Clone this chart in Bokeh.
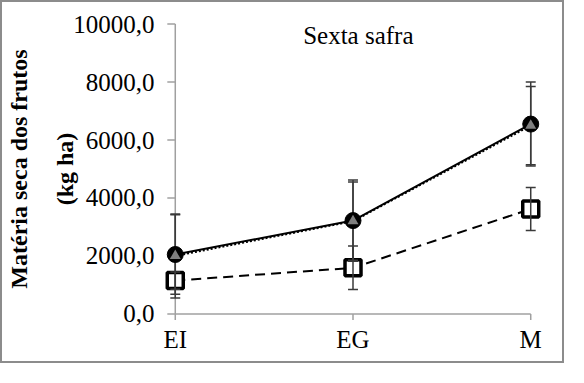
from bokeh.plotting import figure
from bokeh.models import Range1d, FixedTicker, LinearAxis
from bokeh.core.properties import value
from bokeh.embed import file_html
from bokeh.resources import INLINE

# ---- data ----
stages = ["EI", "EG", "M"]
xpos = [0, 1, 2]
circle_vals = [2050, 3220, 6550]
circle_err = [1370, 1400, 1450]
triangle_vals = [2000, 3200, 6500]
triangle_err = [1450, 1350, 1350]
square_vals = [1150, 1590, 3620]
square_err = [300, 750, 740]
yticks = [0, 2000, 4000, 6000, 8000, 10000]
title_text = "Sexta safra"

FONT = "Liberation Serif"
W, H = 564, 363
FRAME_W, FRAME_H = 393, 313
LEFT, TOP = 153, 10
X0, X1 = -0.1, 2.1
Y0, Y1 = -400, 10400
PX_X = FRAME_W / (X1 - X0)
PX_Y = FRAME_H / (Y1 - Y0)

p = figure(width=W, height=H, output_backend="svg", toolbar_location=None,
           x_range=Range1d(X0, X1), y_range=Range1d(Y0, Y1),
           min_border_left=LEFT, min_border_right=W - LEFT - FRAME_W,
           min_border_top=TOP, min_border_bottom=H - TOP - FRAME_H)
p.styles = {"border": "2px solid #8c8c8c"}
p.outline_line_color = None
p.xgrid.visible = False
p.ygrid.visible = False
p.background_fill_color = "white"
p.border_fill_color = "white"

# axes: labels from Bokeh, lines/ticks drawn manually
for ax in (p.xaxis[0], p.yaxis[0]):
    ax.axis_line_color = None
    ax.major_tick_line_color = None
    ax.minor_tick_line_color = None
    ax.major_tick_out = 0
    ax.major_tick_in = 0
    ax.minor_tick_out = 0
    ax.minor_tick_in = 0
    ax.major_label_text_font = FONT
    ax.major_label_text_font_size = "25px"
    ax.major_label_text_color = "black"
p.yaxis[0].major_label_standoff = 3
p.xaxis[0].major_label_standoff = 0

p.yaxis[0].ticker = FixedTicker(ticks=yticks)
p.yaxis[0].major_label_overrides = {t: f"{t},0" for t in yticks}
p.xaxis[0].ticker = FixedTicker(ticks=xpos)
p.xaxis[0].major_label_overrides = {x: s for x, s in zip(xpos, stages)}

def dummy_axis(label, standoff):
    return LinearAxis(axis_label=label, ticker=FixedTicker(ticks=[]),
                      major_tick_out=0, major_tick_in=0, minor_tick_out=0, minor_tick_in=0,
                      axis_line_color=None, major_label_text_font_size="0px",
                      axis_label_standoff=standoff, axis_label_text_font=FONT,
                      axis_label_text_font_style="bold", axis_label_text_font_size="24px",
                      axis_label_text_color="black")

p.add_layout(dummy_axis("(kg ha)", -7), "left")
p.add_layout(dummy_axis("Matéria seca dos frutos", 17), "left")

AX_COL = "#a0a0a0"
ytick_len = 8 / PX_X
xtick_len = 6 / PX_Y
# axis lines
p.segment(x0=[xpos[0]], y0=[yticks[0]], x1=[xpos[0]], y1=[yticks[-1]], line_color=AX_COL, line_width=1.5)
p.segment(x0=[xpos[0]], y0=[yticks[0]], x1=[xpos[-1]], y1=[yticks[0]], line_color=AX_COL, line_width=1.5)
# tick marks
p.segment(x0=[xpos[0] - ytick_len] * len(yticks), y0=yticks, x1=[xpos[0]] * len(yticks), y1=yticks,
          line_color=AX_COL, line_width=1.5)
p.segment(x0=xpos, y0=[yticks[0]] * 3, x1=xpos, y1=[yticks[0] - xtick_len] * 3,
          line_color=AX_COL, line_width=1.5)

# title
p.text(x=[1.03], y=[9620], text=[title_text], text_font=value(FONT), text_font_size="25px",
       text_align="center", text_baseline="middle", text_color="black")

# lines
p.line(xpos, square_vals, line_color="black", line_width=2, line_dash="10 6")
p.line(xpos, circle_vals, line_color="black", line_width=2)
p.line(xpos, triangle_vals, line_color="black", line_width=2, line_dash="2 2")

# squares
p.scatter(xpos, square_vals, marker="square", size=16, fill_color="white",
          line_color="black", line_width=3.5)

# error bars
ERR_COL = "#3a3a3a"
cap = 5 / PX_X
def errbars(vals, errs):
    lo = [v - e for v, e in zip(vals, errs)]
    hi = [v + e for v, e in zip(vals, errs)]
    p.segment(x0=xpos, y0=lo, x1=xpos, y1=hi, line_color=ERR_COL, line_width=1.5)
    p.segment(x0=[x - cap for x in xpos], y0=lo, x1=[x + cap for x in xpos], y1=lo,
              line_color=ERR_COL, line_width=1.5)
    p.segment(x0=[x - cap for x in xpos], y0=hi, x1=[x + cap for x in xpos], y1=hi,
              line_color=ERR_COL, line_width=1.5)

errbars(square_vals, square_err)
errbars(circle_vals, circle_err)
errbars(triangle_vals, triangle_err)

# circles and triangles
p.scatter(xpos, circle_vals, marker="circle", size=16, fill_color="black", line_color="black")
p.scatter(xpos, triangle_vals, marker="triangle", size=11, fill_color="#7f7f7f", line_color=None)

open("out.html", "w").write(file_html(p, INLINE))
